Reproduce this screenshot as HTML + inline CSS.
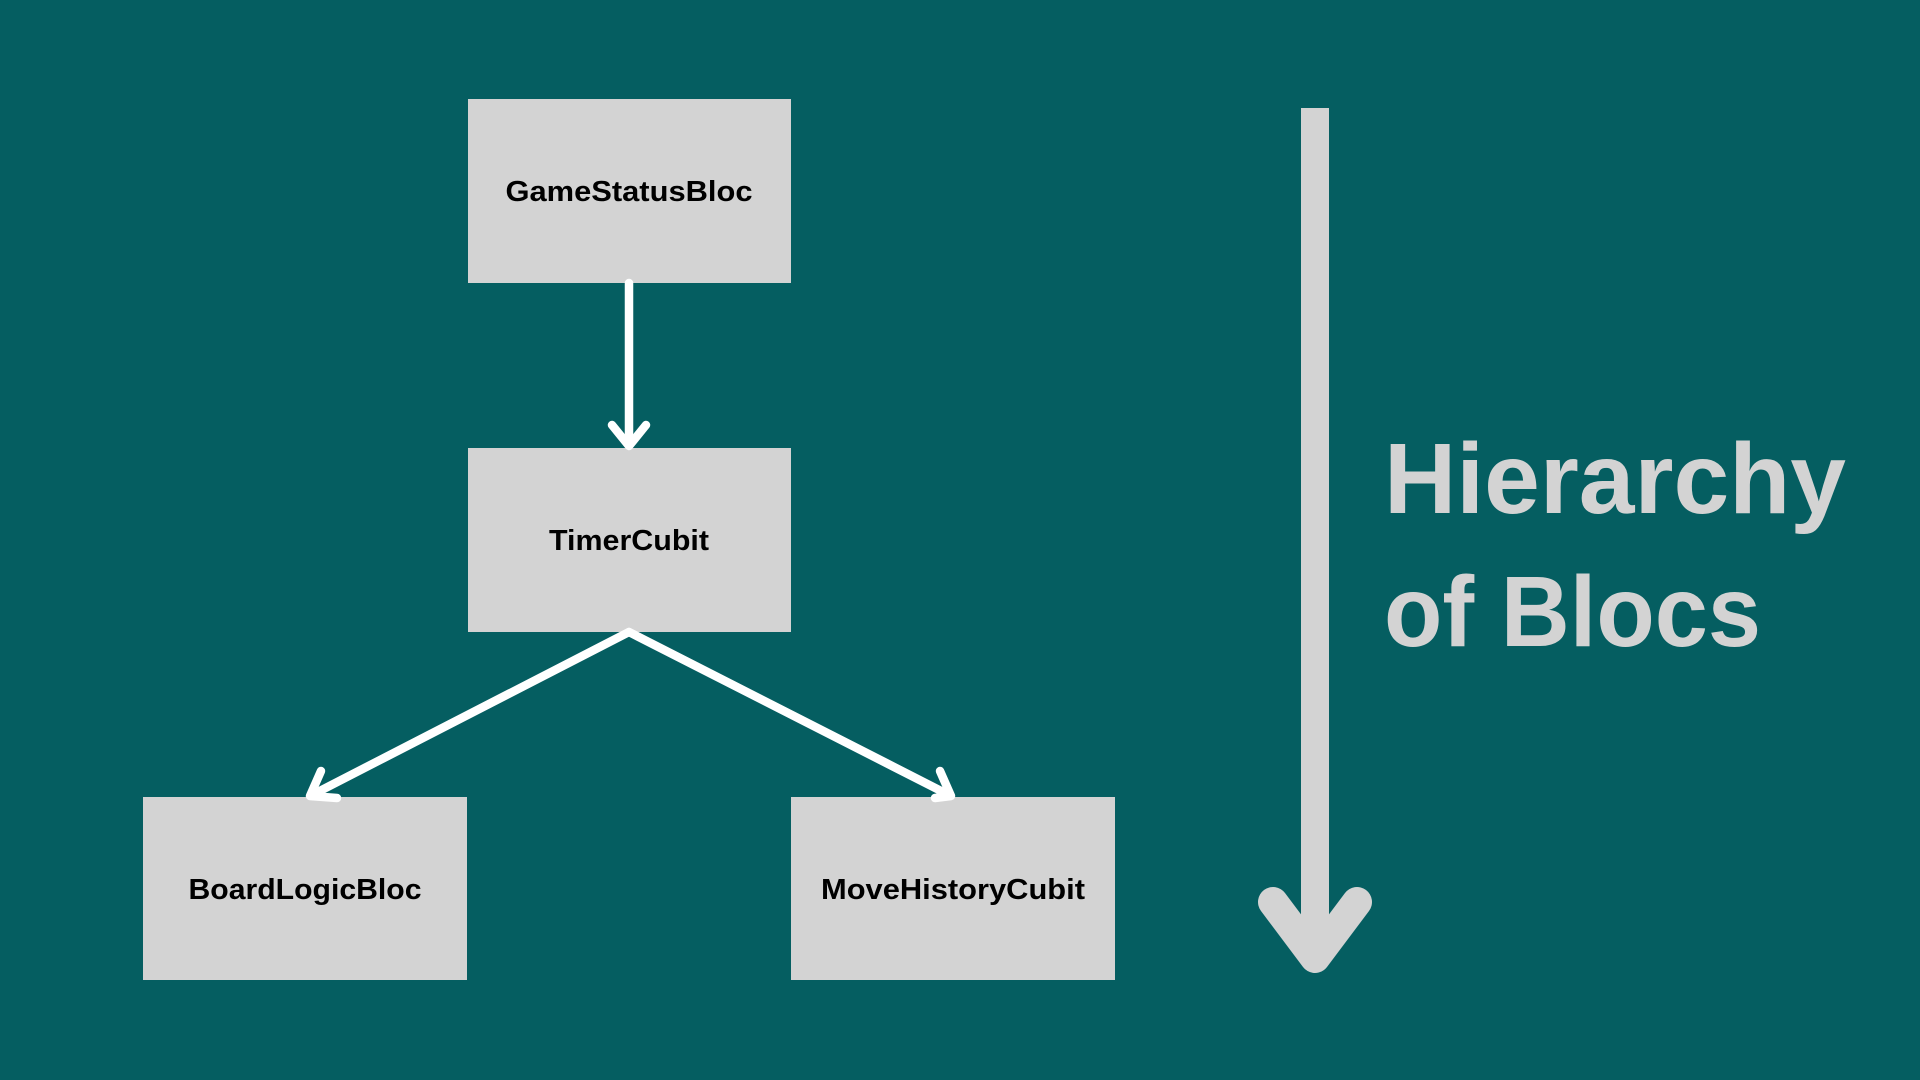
<!DOCTYPE html>
<html><head><style>html,body{margin:0;padding:0;background:#055e61;}svg{display:block}</style></head><body>
<svg width="1920" height="1080" viewBox="0 0 1920 1080" xmlns="http://www.w3.org/2000/svg">
<rect width="1920" height="1080" fill="#055e61"/>
<g fill="#d3d3d3">
<rect x="468" y="99" width="323" height="184"/>
<rect x="468" y="448" width="323" height="184"/>
<rect x="143" y="797" width="324" height="183"/>
<rect x="791" y="797" width="324" height="183"/>
</g>
<g font-family="Liberation Sans, sans-serif" font-weight="bold" font-size="29" fill="#000" text-anchor="middle">
<text x="629" y="201" textLength="247" lengthAdjust="spacingAndGlyphs">GameStatusBloc</text>
<text x="629" y="550" textLength="160" lengthAdjust="spacingAndGlyphs">TimerCubit</text>
<text x="305" y="899" textLength="233" lengthAdjust="spacingAndGlyphs">BoardLogicBloc</text>
<text x="953" y="899" textLength="264" lengthAdjust="spacingAndGlyphs">MoveHistoryCubit</text>
</g>
<g stroke="#fff" stroke-width="8.5" fill="none" stroke-linecap="round" stroke-linejoin="round">
<line x1="629" y1="283" x2="629" y2="444"/>
<polyline points="612,425 629,446 646,425"/>
<line x1="629" y1="632" x2="312" y2="795"/>
<line x1="629" y1="632" x2="949" y2="795"/>
<polyline points="321,771 310,796 337,798"/>
<polyline points="935,798 951,796 940,771"/>
</g>
<g stroke="#d3d3d3" fill="none">
<line x1="1315" y1="108" x2="1315" y2="950" stroke-width="28"/>
<polyline points="1273,902 1315,958 1357,902" stroke-width="30" stroke-linecap="round" stroke-linejoin="round"/>
</g>
<g font-family="Liberation Sans, sans-serif" font-weight="bold" font-size="100" fill="#d3d3d3">
<text x="1384" y="513" textLength="462" lengthAdjust="spacingAndGlyphs">Hierarchy</text>
<text x="1384" y="646" textLength="377" lengthAdjust="spacingAndGlyphs">of Blocs</text>
</g>
</svg>
</body></html>
